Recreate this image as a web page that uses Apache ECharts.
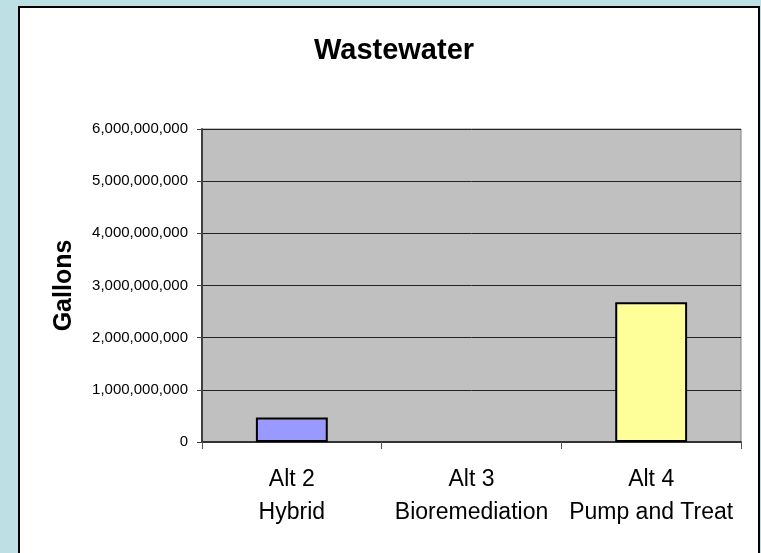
<!DOCTYPE html>
<html>
<head>
<meta charset="utf-8">
<title>Wastewater</title>
<script src="https://cdn.jsdelivr.net/npm/echarts@6/dist/echarts.min.js"></script>
<style>
  html, body { margin: 0; padding: 0; background: #bce0e3; }
  #chart { width: 761px; height: 553px; }
</style>
</head>
<body>
<div id="chart"></div>
<script>
// data
const categories = ["Alt 2\nHybrid", "Alt 3\nBioremediation", "Alt 4\nPump and Treat"];
const gallons = [470000000, 0, 2680000000];
const barColors = ["#9999ff", "#ffff99", "#ffff99"];
const yTicks = { min: 0, max: 6000000000, step: 1000000000 };

const font = "Liberation Sans, Arial, sans-serif";

let mychart = echarts.init(document.getElementById("chart"));
mychart.setOption({
  backgroundColor: "#bce0e3",
  animation: false,
  // white panel with black border
  graphic: [
    {
      type: "rect",
      z: -10,
      shape: { x: 19, y: 7, width: 740, height: 600 },
      style: { fill: "#ffffff", stroke: "#000000", lineWidth: 2 }
    }
  ],
  title: {
    text: "Wastewater",
    left: 389,
    top: 31,
    textAlign: "center",
    textStyle: { fontFamily: font, fontSize: 29, fontWeight: "bold", color: "#000" }
  },
  grid: {
    left: 202,
    right: 20,
    top: 129,
    bottom: 111,
    show: true,
    backgroundColor: "#c0c0c0",
    borderColor: "#808080",
    borderWidth: 1
  },
  xAxis: {
    type: "category",
    data: categories,
    axisLine: { show: true, lineStyle: { color: "#333333", width: 2 } },
    axisTick: { show: true, alignWithLabel: false, length: 7, lineStyle: { color: "#555555", width: 1 } },
    axisLabel: {
      interval: 0,
      fontFamily: font,
      fontSize: 23,
      color: "#000",
      lineHeight: 33,
      margin: 21
    }
  },
  yAxis: {
    type: "value",
    min: yTicks.min,
    max: yTicks.max,
    interval: yTicks.step,
    name: "Gallons",
    nameLocation: "middle",
    nameRotate: 90,
    nameGap: 125,
    nameTextStyle: { fontFamily: font, fontSize: 25, fontWeight: "bold", color: "#000" },
    axisLine: { show: true, lineStyle: { color: "#404040", width: 2 } },
    axisTick: { show: true, length: 5, lineStyle: { color: "#404040", width: 1 } },
    splitLine: { show: true, lineStyle: { color: "#222222", width: 1 } },
    axisLabel: {
      fontFamily: font,
      fontSize: 15,
      color: "#000",
      margin: 14,
      formatter: (v) => v.toLocaleString("en-US")
    }
  },
  series: [
    {
      type: "bar",
      barWidth: "40%",
      data: gallons.map((v, i) => ({
        value: v,
        itemStyle: { color: barColors[i], borderColor: "#000", borderWidth: v > 0 ? 2 : 0 }
      }))
    }
  ]
});
</script>
</body>
</html>
